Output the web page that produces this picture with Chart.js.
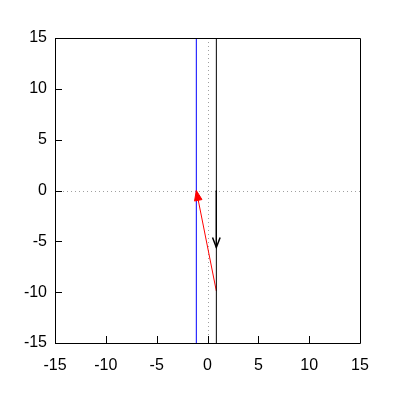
<!DOCTYPE html>
<html>
<head>
<meta charset="utf-8">
<script src="https://cdn.jsdelivr.net/npm/chart.js@4/dist/chart.umd.min.js"></script>
<style>
html,body{margin:0;padding:0;background:#fff;}
#wrap{width:400px;height:400px;}
</style>
</head>
<body>
<div id="wrap"><canvas id="c" width="400" height="400"></canvas></div>
<script>
const tickValues = [-15, -10, -5, 0, 5, 10, 15];
const blueLineX = -1.1;
const blackLineX = 0.87;
const redArrowFrom = [0.87, -9.9];
const redArrowTo = [-1.1, 0];
const blackArrowFrom = [0.87, 0];
const blackArrowTo = [0.87, -5.6];
const axisMin = -15, axisMax = 15;

const FONT = {family: '"Liberation Sans", Arial, sans-serif', size: 16};

const framePlugin = {
  id: 'frame',
  beforeDatasetsDraw(chart) {
    const {ctx, chartArea: a, scales} = chart;
    ctx.save();
    ctx.strokeStyle = '#a0a0a0';
    ctx.lineWidth = 1;
    ctx.setLineDash([1, 3]);
    const x0 = Math.round(scales.x.getPixelForValue(0)) + 0.5;
    const y0 = Math.round(scales.y.getPixelForValue(0)) + 0.5;
    ctx.beginPath();
    ctx.moveTo(x0, a.top); ctx.lineTo(x0, a.bottom);
    ctx.moveTo(a.left, y0); ctx.lineTo(a.right, y0);
    ctx.stroke();
    ctx.restore();
  },
  afterDatasetsDraw(chart) {
    const {ctx, chartArea: a, scales} = chart;
    ctx.save();
    ctx.strokeStyle = '#000';
    ctx.lineWidth = 1;
    ctx.setLineDash([]);
    ctx.beginPath();
    ctx.rect(Math.round(a.left) + 0.5, Math.round(a.top) + 0.5,
             Math.round(a.right - a.left), Math.round(a.bottom - a.top));
    ctx.stroke();
    ctx.beginPath();
    tickValues.forEach(v => {
      const px = Math.round(scales.x.getPixelForValue(v)) + 0.5;
      ctx.moveTo(px, a.bottom); ctx.lineTo(px, a.bottom - 7);
      const py = Math.round(scales.y.getPixelForValue(v)) + 0.5;
      ctx.moveTo(a.left, py); ctx.lineTo(a.left + 7, py);
    });
    ctx.stroke();
    chart.data.datasets.forEach((ds, i) => {
      if (!ds.arrow) return;
      const meta = chart.getDatasetMeta(i);
      const p1 = meta.data[0], p2 = meta.data[1];
      const ang = Math.atan2(p2.y - p1.y, p2.x - p1.x);
      const len = 10, half = 3.8;
      const bx = p2.x - len * Math.cos(ang), by = p2.y - len * Math.sin(ang);
      const nx = -Math.sin(ang) * half, ny = Math.cos(ang) * half;
      ctx.strokeStyle = ds.borderColor;
      ctx.fillStyle = ds.borderColor;
      ctx.lineWidth = ds.arrow === 'filled' ? 1 : 1.5;
      ctx.beginPath();
      ctx.moveTo(bx + nx, by + ny);
      ctx.lineTo(p2.x, p2.y);
      ctx.lineTo(bx - nx, by - ny);
      if (ds.arrow === 'filled') { ctx.closePath(); ctx.fill(); }
      ctx.stroke();
    });
    ctx.restore();
  }
};

new Chart(document.getElementById('c'), {
  type: 'scatter',
  data: {
    datasets: [
      {data: [{x: blueLineX, y: axisMin}, {x: blueLineX, y: axisMax}], borderColor: '#0000ff', showLine: true, pointRadius: 0, borderWidth: 1},
      {data: [{x: blackLineX, y: axisMin}, {x: blackLineX, y: axisMax}], borderColor: '#000000', showLine: true, pointRadius: 0, borderWidth: 1},
      {data: [{x: redArrowFrom[0], y: redArrowFrom[1]}, {x: redArrowTo[0], y: redArrowTo[1]}], borderColor: '#ff0000', showLine: true, pointRadius: 0, borderWidth: 1, arrow: 'filled'},
      {data: [{x: blackArrowFrom[0], y: blackArrowFrom[1]}, {x: blackArrowTo[0], y: blackArrowTo[1]}], borderColor: '#000000', showLine: true, pointRadius: 0, borderWidth: 1, arrow: 'open'}
    ]
  },
  options: {
    responsive: false,
    animation: false,
    events: [],
    layout: {padding: {top: 38, right: 40, left: 0, bottom: 0}},
    plugins: {legend: {display: false}, tooltip: {enabled: false}},
    scales: {
      x: {
        type: 'linear', min: axisMin, max: axisMax,
        afterBuildTicks: s => { s.ticks = tickValues.map(v => ({value: v})); },
        afterFit: s => { s.height = 57; },
        grid: {display: false, drawTicks: false}, border: {display: false},
        ticks: {color: '#000', font: FONT, padding: 13, maxRotation: 0}
      },
      y: {
        type: 'linear', min: axisMin, max: axisMax,
        afterBuildTicks: s => { s.ticks = tickValues.map(v => ({value: v})); },
        afterFit: s => { s.width = 55; },
        grid: {display: false, drawTicks: false}, border: {display: false},
        ticks: {color: '#000', font: FONT, padding: 8}
      }
    }
  },
  plugins: [framePlugin]
});
</script>
</body>
</html>
